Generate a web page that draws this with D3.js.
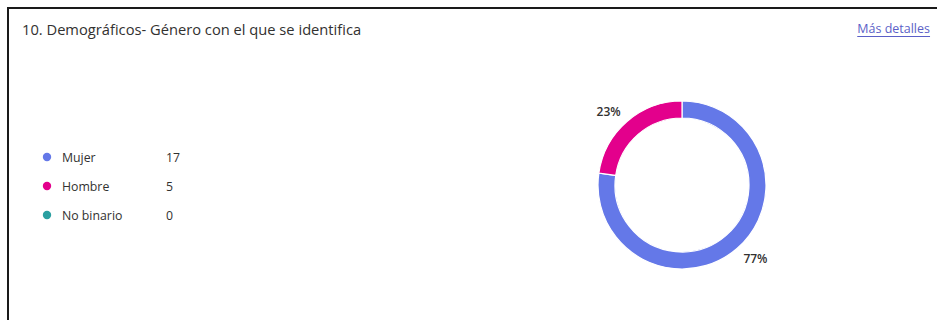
<!DOCTYPE html>
<html><head><meta charset="utf-8">
<script src="https://cdn.jsdelivr.net/npm/d3@7"></script>
<style>
html,body{margin:0;padding:0;background:#fff;}
svg{display:block;}
</style></head>
<body>
<svg id="chart" width="937" height="320"></svg>
<script>
const title = "10. Demográficos- Género con el que se identifica";
const linkText = "Más detalles";
const categories = ["Mujer", "Hombre", "No binario"];
const counts = [17, 5, 0];
const colors = ["#6478e8", "#e3008c", "#2a9fa0"];

const svg = d3.select("#chart");
const font = "'Open Sans', 'Noto Sans', sans-serif";

// frame
svg.append("path")
  .attr("d", "M8,330 L8,8 L945,8")
  .attr("fill", "none").attr("stroke", "#1a1a1a").attr("stroke-width", 2);

svg.append("text").attr("x", 22).attr("y", 35)
  .attr("font-family", font).attr("font-size", 14.7).attr("fill", "#323130")
  .text(title);

const link = svg.append("text").attr("x", 930).attr("y", 33)
  .attr("text-anchor", "end")
  .attr("font-family", font).attr("font-size", 12.5).attr("fill", "#5b5fc7")
  .text(linkText);
const lb = link.node().getBBox();
svg.append("line").attr("x1", lb.x).attr("x2", lb.x + lb.width)
  .attr("y1", 36.5).attr("y2", 36.5).attr("stroke", "#5b5fc7").attr("stroke-width", 1);

// legend
const ly = d3.scalePoint().domain(categories).range([157, 215]);
const leg = svg.append("g");
categories.forEach((c, i) => {
  const y = ly(c);
  leg.append("circle").attr("cx", 47).attr("cy", y).attr("r", 4.2).attr("fill", colors[i]);
  leg.append("text").attr("x", 62).attr("y", y + 4.5)
    .attr("font-family", font).attr("font-size", 12.3).attr("fill", "#323130").text(c);
  leg.append("text").attr("x", 166).attr("y", y + 4.5)
    .attr("font-family", font).attr("font-size", 12.3).attr("fill", "#323130").text(counts[i]);
});

// donut
const cx = 682, cy = 185, rOuter = 84, rInner = 67;
const total = d3.sum(counts);
const pie = d3.pie().sort(null).value(d => d)(counts);
const arc = d3.arc().innerRadius(rInner).outerRadius(rOuter);
const g = svg.append("g").attr("transform", `translate(${cx},${cy})`);
g.selectAll("path.slice").data(pie.filter(d => d.value > 0)).join("path")
  .attr("class", "slice")
  .attr("d", arc)
  .attr("fill", d => colors[d.index])
  .attr("stroke", "#fff").attr("stroke-width", 1.2);
g.selectAll("text.pct").data(pie.filter(d => d.value > 0)).join("text")
  .attr("class", "pct")
  .attr("transform", d => {
    const a = (d.startAngle + d.endAngle) / 2 - 0.07;
    return `translate(${104 * Math.sin(a)},${-104 * Math.cos(a)})`;
  })
  .attr("text-anchor", "middle").attr("dy", "0.35em")
  .attr("font-family", font).attr("font-size", 12).attr("font-weight", 600).attr("fill", "#323130")
  .text(d => Math.round(d.value / total * 100) + "%");
</script>
</body></html>
